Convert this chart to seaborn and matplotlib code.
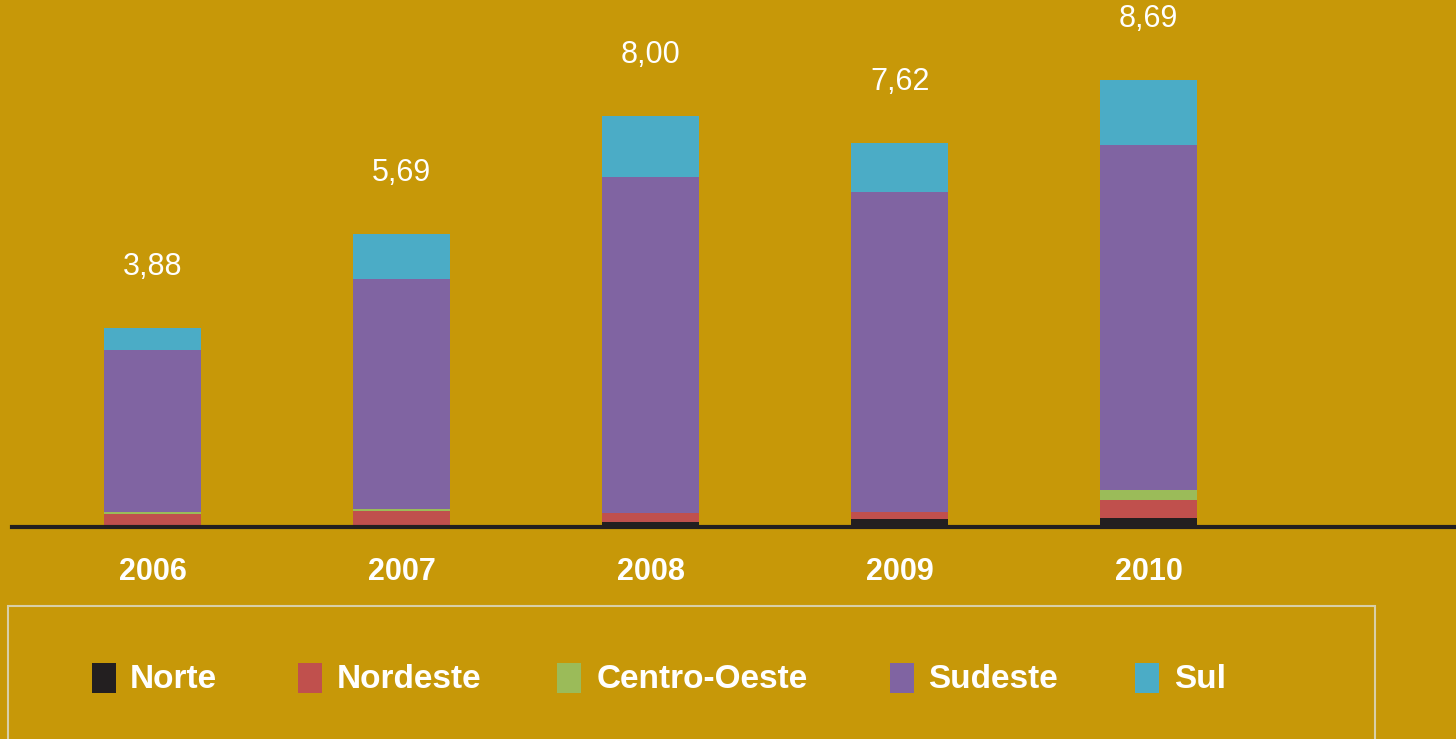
import matplotlib
matplotlib.use("Agg")
import matplotlib.pyplot as plt
import seaborn as sns
import pandas as pd
from matplotlib.patches import Rectangle

# dados (milhões)
anos = ["2006", "2007", "2008", "2009", "2010"]
regioes = ["Norte", "Nordeste", "Centro-Oeste", "Sudeste", "Sul"]
norte = [0.00, 0.00, 0.10, 0.16, 0.18]
nordeste = [0.26, 0.31, 0.17, 0.13, 0.35]
centro_oeste = [0.03, 0.04, 0.01, 0.00, 0.19]
sudeste = [3.16, 4.47, 6.53, 6.23, 6.71]
sul = [0.43, 0.87, 1.19, 0.95, 1.26]
totais = ["3,88", "5,69", "8,00", "7,62", "8,69"]

cores = ["#231F20", "#C0504D", "#9BBB59", "#8064A2", "#4BACC6"]
fundo = "#C79808"

df = pd.DataFrame({"ano": anos, "Norte": norte, "Nordeste": nordeste,
                   "Centro-Oeste": centro_oeste, "Sudeste": sudeste, "Sul": sul})
cum = df[regioes].cumsum(axis=1)
cum["ano"] = anos

sns.set_style("white")
plt.rcParams["font.family"] = ["Liberation Sans", "DejaVu Sans"]

fig = plt.figure(figsize=(14.56, 7.39), dpi=100, facecolor=fundo)
ax = fig.add_axes([12 / 1456, 212 / 739, 1444 / 1456, 527 / 739])
ax.set_facecolor(fundo)

# empilhado: desenha do topo para a base
for reg, cor in reversed(list(zip(regioes, cores))):
    sns.barplot(data=cum, x="ano", y=reg, order=anos, color=cor,
                width=0.39, linewidth=0, saturation=1, ax=ax)

ax.set_xlim(-0.566, 5.234)
ax.set_ylim(0, 10.25)
ax.set_xlabel("")
ax.set_ylabel("")
ax.set_yticks([])
ax.set_xticks([])
for s in ["top", "right", "left"]:
    ax.spines[s].set_visible(False)
ax.spines["bottom"].set_color("#231F20")
ax.spines["bottom"].set_linewidth(3)

tot = cum["Sul"].tolist()
for i, (t, lab) in enumerate(zip(tot, totais)):
    ax.annotate(lab, (i, t), xytext=(0, 61), textcoords="offset pixels",
                ha="center", va="center", color="white", fontsize=22)
    ax.annotate(anos[i], (i, 0), xytext=(0, -45), textcoords="offset pixels",
                ha="center", va="center", color="white", fontsize=22,
                fontweight="bold")

# legenda manual
W, H = 1456, 739
fig.patches.append(Rectangle((8 / W, -0.05), 1367 / W, (739 - 606) / H + 0.05,
                             transform=fig.transFigure, fill=False,
                             edgecolor="#D8CFA8", linewidth=1.5))
sq_x = [92, 298, 557, 890, 1135]
tx_x = [130, 337, 597, 928, 1174]
for reg, cor, sx, tx in zip(regioes, cores, sq_x, tx_x):
    fig.patches.append(Rectangle((sx / W, (739 - 693) / H), 24 / W, 30 / H,
                                 transform=fig.transFigure, facecolor=cor,
                                 edgecolor="none"))
    fig.text(tx / W, (739 - 679) / H, reg, color="white", fontsize=24,
             fontweight="bold", ha="left", va="center")

fig.savefig("out.png", dpi=100, facecolor=fundo)
